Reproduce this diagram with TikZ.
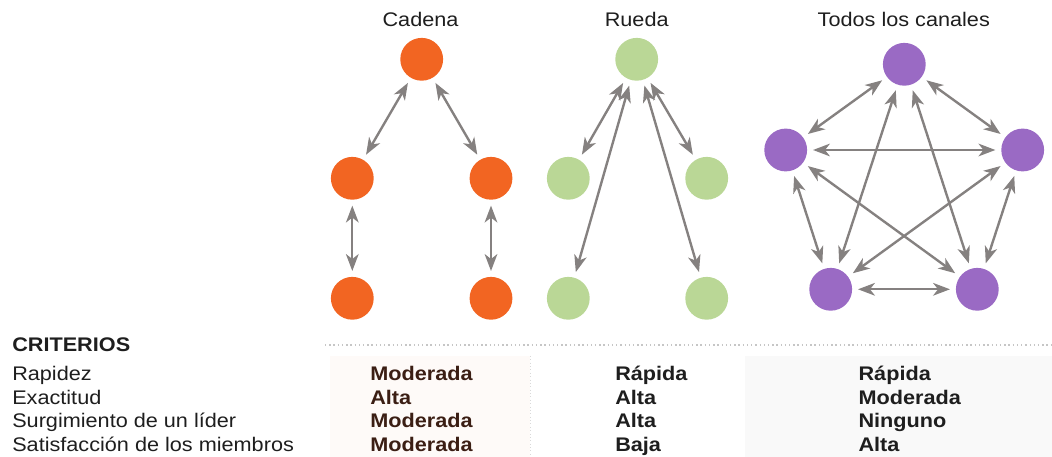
\documentclass[tikz,border=0pt]{standalone}
\usepackage{fontspec}
\setmainfont[FakeStretch=1.1]{Liberation Sans}
\usetikzlibrary{arrows.meta}
\definecolor{naranja}{HTML}{F26522}
\definecolor{verde}{HTML}{BAD796}
\definecolor{morado}{HTML}{9A6AC4}
\definecolor{flecha}{HTML}{858180}
\definecolor{marron}{HTML}{3B1E14}
\definecolor{texto}{HTML}{1E1E1E}
\tikzset{l/.style={font=\fontsize{14}{14}\selectfont,inner sep=0pt,text=texto}}
\tikzset{lb/.style={font=\fontsize{14}{14}\selectfont\bfseries,inner sep=0pt,text=texto}}
\tikzset{v/.style={circle,inner sep=0pt,minimum size=1.07cm}}
\tikzset{f/.style={<->,draw=flecha,line width=1.7pt,shorten <=4pt,shorten >=4pt}}

\begin{document}
\begin{tikzpicture}[x=0.025cm,y=-0.025cm,>={Stealth[length=12pt,width=9pt,inset=3.5pt]}]
        \useasboundingbox (0,0) rectangle (1052,457);
        % fondo de la tabla
        \fill [naranja!3] (330,356) rectangle (530,457);
        \fill [morado!8!gray!5] (745,356) rectangle (1052,457);
        \draw [gray!45,dotted,line width=1pt] (325,345) -- (1052,345);
        \draw [gray!30,dotted] (530,356) -- (530,457);
        % cadena
        \node (tC) at (420.5,26.7) [l,anchor=base] {Cadena};
        \node [v,fill=naranja] (C1) at (421.7,59.3) {};
        \node [v,fill=naranja] (C2) at (352.3,178.3) {}
          edge [f] (C1);
        \node [v,fill=naranja] (C3) at (491,178.3) {}
          edge [f] (C1);
        \node [v,fill=naranja] (C4) at (352.3,298.3) {}
          edge [f] (C2);
        \node [v,fill=naranja] (C5) at (491,298.3) {}
          edge [f] (C3);
        % rueda
        \node (tR) at (636.7,26.7) [l,anchor=base] {Rueda};
        \node [v,fill=verde] (R1) at (636.7,59.3) {};
        \node [v,fill=verde] (R2) at (568.3,178.3) {}
          edge [f] (R1);
        \node [v,fill=verde] (R3) at (706.7,178.3) {}
          edge [f] (R1);
        \node [v,fill=verde] (R4) at (568.3,298.3) {}
          edge [f] (R1);
        \node [v,fill=verde] (R5) at (706.7,298.3) {}
          edge [f] (R1);
        % todos los canales
        \node (tT) at (903.8,26.7) [l,anchor=base] {Todos los canales};
        \node [v,fill=morado] (T1) at (904.3,64.3) {};
        \node [v,fill=morado] (T2) at (785.7,150) {}
          edge [f] (T1);
        \node [v,fill=morado] (T3) at (1022.7,150) {}
          edge [f] (T1)
          edge [f] (T2);
        \node [v,fill=morado] (T4) at (830.7,289.3) {}
          edge [f] (T1)
          edge [f] (T2)
          edge [f] (T3);
        \node [v,fill=morado] (T5) at (977.3,289.3) {}
          edge [f] (T1)
          edge [f] (T2)
          edge [f] (T3)
          edge [f] (T4);
        % criterios
        \node (crit) at (12,352) [lb,anchor=base west] {CRITERIOS};
        \node (k1) at (12,380.7) [l,anchor=base west] {Rapidez};
        \node (k2) at (12,404.3) [l,anchor=base west] {Exactitud};
        \node (k3) at (12,428) [l,anchor=base west] {Surgimiento de un líder};
        \node (k4) at (12,451.7) [l,anchor=base west] {Satisfacción de los miembros};
        \node (c1) at (370,380.7) [lb,text=marron,anchor=base west] {Moderada};
        \node (c2) at (370,404.3) [lb,text=marron,anchor=base west] {Alta};
        \node (c3) at (370,428) [lb,text=marron,anchor=base west] {Moderada};
        \node (c4) at (370,451.7) [lb,text=marron,anchor=base west] {Moderada};
        \node (r1) at (615,380.7) [lb,anchor=base west] {Rápida};
        \node (r2) at (615,404.3) [lb,anchor=base west] {Alta};
        \node (r3) at (615,428) [lb,anchor=base west] {Alta};
        \node (r4) at (615,451.7) [lb,anchor=base west] {Baja};
        \node (t1) at (858.3,380.7) [lb,anchor=base west] {Rápida};
        \node (t2) at (858.3,404.3) [lb,anchor=base west] {Moderada};
        \node (t3) at (858.3,428) [lb,anchor=base west] {Ninguno};
        \node (t4) at (858.3,451.7) [lb,anchor=base west] {Alta};
      \end{tikzpicture}
\end{document}
